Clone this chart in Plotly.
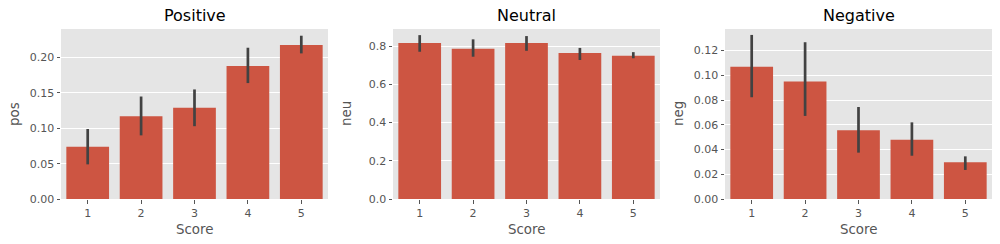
import plotly.graph_objects as go

scores = ["1", "2", "3", "4", "5"]

pos_mean = [0.074, 0.117, 0.129, 0.188, 0.218]
pos_low = [0.049, 0.090, 0.103, 0.164, 0.206]
pos_high = [0.099, 0.145, 0.155, 0.214, 0.231]

neu_mean = [0.816, 0.786, 0.816, 0.763, 0.749]
neu_low = [0.770, 0.744, 0.775, 0.727, 0.736]
neu_high = [0.857, 0.835, 0.852, 0.790, 0.768]

neg_mean = [0.107, 0.095, 0.0556, 0.048, 0.0297]
neg_low = [0.0823, 0.0672, 0.0375, 0.035, 0.0235]
neg_high = [0.1327, 0.1268, 0.0744, 0.062, 0.0345]

titles = ["Positive", "Neutral", "Negative"]
ylabels = ["pos", "neu", "neg"]
yranges = [[0, 0.2405], [0, 0.889], [0, 0.1375]]
ytickvals = [[0, 0.05, 0.10, 0.15, 0.20], [0, 0.2, 0.4, 0.6, 0.8],
             [0, 0.02, 0.04, 0.06, 0.08, 0.10, 0.12]]
yfmt = [".2f", ".1f", ".2f"]

W, H = 1000, 244
xdoms = [(61, 328), (393, 660), (725, 992)]
ytop, ybot = 29, 199

BAR = "#CD5542"
ERR = "#424242"
TXT = "#555555"
FONT = "DejaVu Sans"

fig = go.Figure()
series = [(pos_mean, pos_low, pos_high), (neu_mean, neu_low, neu_high),
          (neg_mean, neg_low, neg_high)]

annotations = []
for i, (m, lo, hi) in enumerate(series):
    xa = "x" if i == 0 else f"x{i+1}"
    ya = "y" if i == 0 else f"y{i+1}"
    fig.add_trace(go.Bar(
        x=scores, y=m, xaxis=xa, yaxis=ya,
        marker=dict(color=BAR, line=dict(width=0)),
        width=0.8,
        error_y=dict(type="data", symmetric=False,
                     array=[h - v for h, v in zip(hi, m)],
                     arrayminus=[v - l for v, l in zip(m, lo)],
                     color=ERR, thickness=2.7, width=0),
        showlegend=False, hoverinfo="skip",
    ))
    x0, x1 = xdoms[i]
    kx = "xaxis" if i == 0 else f"xaxis{i+1}"
    ky = "yaxis" if i == 0 else f"yaxis{i+1}"
    fig.layout[kx] = dict(
        domain=[x0 / W, x1 / W], anchor=ya, type="category", automargin=False,
        range=[-0.5, 4.5], showgrid=False, zeroline=False,
        ticks="outside", ticklen=3.5, tickwidth=1, tickcolor=TXT,
        tickfont=dict(family=FONT, size=11, color=TXT), showline=False,
    )
    fig.layout[ky] = dict(
        domain=[1 - ybot / H, 1 - ytop / H], anchor=xa, automargin=False,
        range=yranges[i], tickvals=ytickvals[i], tickformat=yfmt[i],
        showgrid=True, gridcolor="white", gridwidth=1, zeroline=False,
        ticks="outside", ticklen=3.5, tickwidth=1, tickcolor=TXT,
        tickfont=dict(family=FONT, size=11, color=TXT), showline=False,
    )
    # background
    fig.add_shape(type="rect", xref="paper", yref="paper",
                  x0=x0 / W, x1=x1 / W, y0=1 - ybot / H, y1=1 - ytop / H,
                  fillcolor="#E5E5E5", line=dict(width=0), layer="below")
    cx = (x0 + x1) / 2 / W
    annotations.append(dict(text=titles[i], x=cx, y=1 - 16 / H, xref="paper", yref="paper",
                            showarrow=False, xanchor="center", yanchor="middle",
                            font=dict(family=FONT, size=16, color="black")))
    annotations.append(dict(text="Score", x=cx, y=1 - 229 / H, xref="paper", yref="paper",
                            showarrow=False, xanchor="center", yanchor="middle",
                            font=dict(family=FONT, size=13.4, color=TXT)))
    annotations.append(dict(text=ylabels[i], x=(x0 - 46) / W, y=1 - 114 / H,
                            xref="paper", yref="paper", textangle=-90,
                            showarrow=False, xanchor="center", yanchor="middle",
                            font=dict(family=FONT, size=13.4, color=TXT)))

fig.update_layout(
    width=W, height=H, margin=dict(l=0, r=0, t=0, b=0),
    paper_bgcolor="white", plot_bgcolor="rgba(0,0,0,0)",
    annotations=annotations, bargap=0.2,
)
fig.write_html("out.html")
